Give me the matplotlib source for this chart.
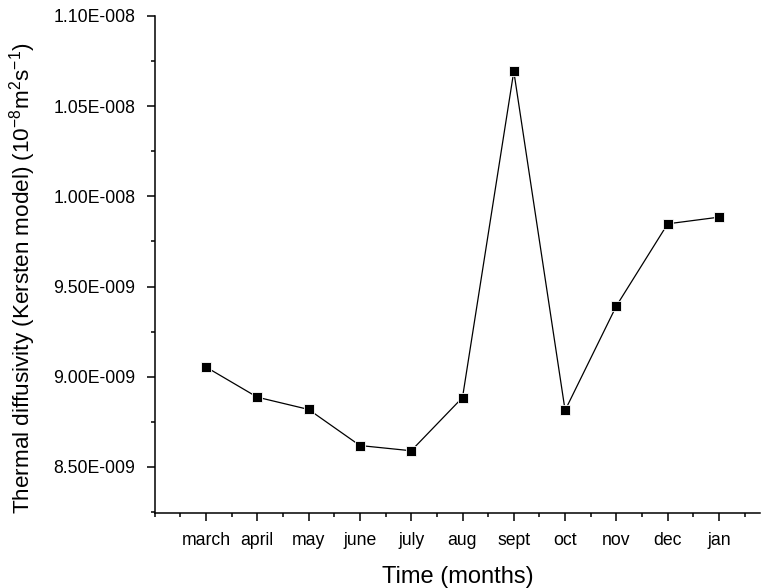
import matplotlib
matplotlib.use("Agg")
import matplotlib.pyplot as plt
from matplotlib.ticker import MultipleLocator, FixedLocator

months = ["march", "april", "may", "june", "july", "aug", "sept", "oct", "nov", "dec", "jan"]
diffusivity = [9.054e-9, 8.887e-9, 8.819e-9, 8.619e-9, 8.590e-9, 8.885e-9,
               10.693e-9, 8.814e-9, 9.393e-9, 9.848e-9, 9.885e-9]
ytick_values = [8.5e-9, 9.0e-9, 9.5e-9, 1.0e-8, 1.05e-8, 1.10e-8]
ytick_labels = ["8.50E-009", "9.00E-009", "9.50E-009", "1.00E-008", "1.05E-008", "1.10E-008"]

plt.rcParams['font.family'] = ['Liberation Sans', 'DejaVu Sans']
plt.rcParams['mathtext.default'] = 'regular'

fig = plt.figure(figsize=(7.63, 5.88), dpi=100)
W, H = 763, 588
left, right, top, bottom = 154.7, 760, 16, 513
ax = fig.add_axes([left / W, 1 - bottom / H, (right - left) / W, (bottom - top) / H])

x = list(range(1, len(months) + 1))
ax.plot(x, diffusivity, color='black', linewidth=0.9, marker='s', markersize=7.5,
        markerfacecolor='black', markeredgecolor='white', markeredgewidth=0.6)

ax.set_xlim(0, (right - left) / 51.3)
ax.set_ylim(8.245e-9, 1.10e-8)

ax.set_xticks(x)
ax.set_xticklabels(months, fontsize=12.7)
ax.xaxis.set_minor_locator(FixedLocator([i + 0.5 for i in range(0, 12)] + [0]))
ax.set_yticks(ytick_values)
ax.set_yticklabels(ytick_labels, fontsize=12.7)
ax.yaxis.set_minor_locator(MultipleLocator(0.25e-9))

for s in ['top', 'right']:
    ax.spines[s].set_visible(False)
for s in ['left', 'bottom']:
    ax.spines[s].set_linewidth(1.1)

ax.tick_params(axis='both', which='major', direction='out', length=6, width=1.1)
ax.tick_params(axis='x', which='major', pad=8)
ax.tick_params(axis='y', which='major', pad=8)
ax.tick_params(axis='both', which='minor', direction='out', length=3.2, width=1.1)

ax.set_xlabel("Time (months)", fontsize=17, labelpad=12)
ax.set_ylabel("Thermal diffusivity (Kersten model) (10$^{-8}$m$^{2}$s$^{-1}$)",
              fontsize=16.2, va='center')
ax.yaxis.set_label_coords(-0.218, 0.473)

fig.savefig("out.png", dpi=100)
